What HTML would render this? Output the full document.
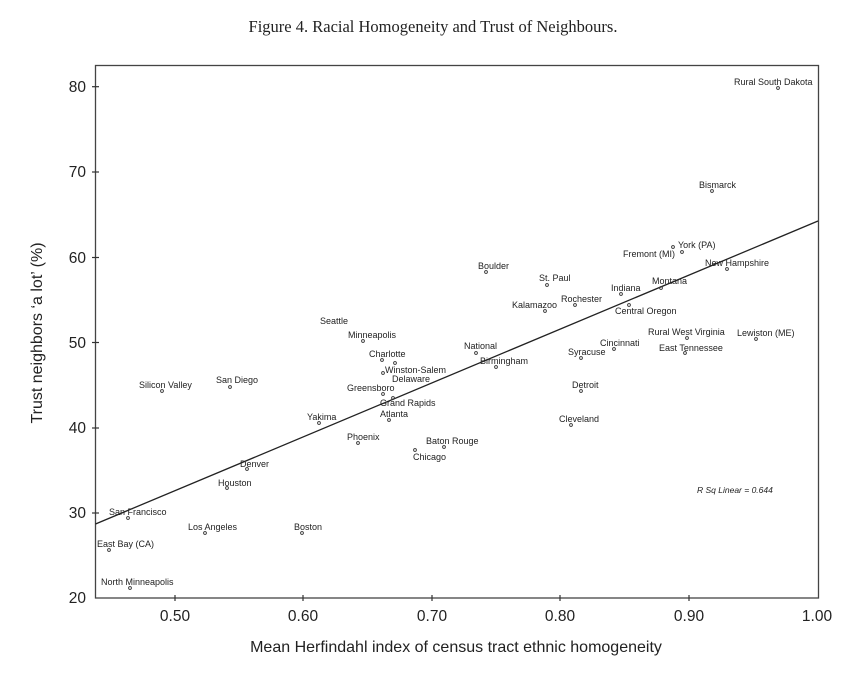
<!DOCTYPE html>
<html><head><meta charset="utf-8"><style>body{margin:0;background:#fff}svg{display:block}</style></head><body>
<svg width="843" height="676" xmlns="http://www.w3.org/2000/svg" font-family="Liberation Sans, sans-serif">
<text x="433" y="32" text-anchor="middle" font-family="Liberation Serif, serif" font-size="16.5" fill="#222">Figure 4.  Racial Homogeneity and Trust of Neighbours.</text>
<rect x="95.5" y="65.5" width="723" height="532.5" fill="none" stroke="#444" stroke-width="1.3"/>
<g stroke="#333" stroke-width="1.2">
<line x1="92" y1="86.7" x2="99" y2="86.7"/><line x1="92" y1="172" x2="99" y2="172"/><line x1="92" y1="257.5" x2="99" y2="257.5"/><line x1="92" y1="342.5" x2="99" y2="342.5"/><line x1="92" y1="428" x2="99" y2="428"/><line x1="92" y1="513" x2="99" y2="513"/>
<line x1="175" y1="595" x2="175" y2="601"/><line x1="303" y1="595" x2="303" y2="601"/><line x1="432" y1="595" x2="432" y2="601"/><line x1="560" y1="595" x2="560" y2="601"/><line x1="689" y1="595" x2="689" y2="601"/>
</g>
<g font-size="15.5" fill="#222" text-anchor="end">
<text x="86" y="92">80</text><text x="86" y="177">70</text><text x="86" y="263">60</text><text x="86" y="348">50</text><text x="86" y="433">40</text><text x="86" y="518">30</text><text x="86" y="603">20</text>
</g>
<g font-size="15.5" fill="#222" text-anchor="middle">
<text x="175" y="621">0.50</text><text x="303" y="621">0.60</text><text x="432" y="621">0.70</text><text x="560" y="621">0.80</text><text x="689" y="621">0.90</text><text x="817" y="621">1.00</text>
</g>
<text x="456" y="652" text-anchor="middle" font-size="16" fill="#222">Mean Herfindahl index of census tract ethnic homogeneity</text>
<text transform="translate(42,333) rotate(-90)" text-anchor="middle" font-size="16" fill="#222">Trust neighbors ‘a lot’ (%)</text>
<line x1="95.5" y1="524" x2="818" y2="221" stroke="#222" stroke-width="1.3"/>
<g fill="none" stroke="#333" stroke-width="0.9">
<circle cx="778" cy="88" r="1.4"/><circle cx="712" cy="191" r="1.4"/><circle cx="673" cy="247" r="1.4"/><circle cx="682" cy="252" r="1.4"/><circle cx="727" cy="269" r="1.4"/><circle cx="486" cy="272" r="1.4"/><circle cx="547" cy="285" r="1.4"/><circle cx="661" cy="288" r="1.4"/><circle cx="621" cy="294" r="1.4"/><circle cx="575" cy="305" r="1.4"/><circle cx="545" cy="311" r="1.4"/><circle cx="629" cy="305" r="1.4"/><circle cx="687" cy="338" r="1.4"/><circle cx="756" cy="339" r="1.4"/><circle cx="614" cy="349" r="1.4"/><circle cx="685" cy="353" r="1.4"/><circle cx="476" cy="353" r="1.4"/><circle cx="581" cy="358" r="1.4"/><circle cx="496" cy="367" r="1.4"/><circle cx="581" cy="391" r="1.4"/><circle cx="571" cy="425" r="1.4"/><circle cx="363" cy="341" r="1.4"/><circle cx="382" cy="360" r="1.4"/><circle cx="395" cy="363" r="1.4"/><circle cx="383" cy="373" r="1.4"/><circle cx="383" cy="394" r="1.4"/><circle cx="393" cy="398" r="1.4"/><circle cx="389" cy="420" r="1.4"/><circle cx="319" cy="423" r="1.4"/><circle cx="358" cy="443" r="1.4"/><circle cx="444" cy="447" r="1.4"/><circle cx="415" cy="450" r="1.4"/><circle cx="162" cy="391" r="1.4"/><circle cx="230" cy="387" r="1.4"/><circle cx="247" cy="469" r="1.4"/><circle cx="227" cy="488" r="1.4"/><circle cx="128" cy="518" r="1.4"/><circle cx="205" cy="533" r="1.4"/><circle cx="302" cy="533" r="1.4"/><circle cx="109" cy="550" r="1.4"/><circle cx="130" cy="588" r="1.4"/>
</g>
<g font-size="9" fill="#222">
<text x="734" y="85">Rural South Dakota</text><text x="699" y="188">Bismarck</text><text x="678" y="248">York (PA)</text><text x="623" y="257">Fremont (MI)</text><text x="705" y="266">New Hampshire</text><text x="478" y="269">Boulder</text><text x="539" y="281">St. Paul</text><text x="652" y="284">Montana</text><text x="611" y="291">Indiana</text><text x="561" y="302">Rochester</text><text x="512" y="308">Kalamazoo</text><text x="615" y="314">Central Oregon</text><text x="648" y="335">Rural West Virginia</text><text x="737" y="336">Lewiston (ME)</text><text x="600" y="346">Cincinnati</text><text x="659" y="351">East Tennessee</text><text x="464" y="349">National</text><text x="568" y="355">Syracuse</text><text x="480" y="364">Birmingham</text><text x="572" y="388">Detroit</text><text x="559" y="422">Cleveland</text><text x="320" y="324">Seattle</text><text x="348" y="338">Minneapolis</text><text x="369" y="357">Charlotte</text><text x="385" y="373">Winston-Salem</text><text x="392" y="382">Delaware</text><text x="347" y="391">Greensboro</text><text x="380" y="406">Grand Rapids</text><text x="380" y="417">Atlanta</text><text x="307" y="420">Yakima</text><text x="347" y="440">Phoenix</text><text x="426" y="444">Baton Rouge</text><text x="413" y="460">Chicago</text><text x="139" y="388">Silicon Valley</text><text x="216" y="383">San Diego</text><text x="240" y="467">Denver</text><text x="218" y="486">Houston</text><text x="109" y="515">San Francisco</text><text x="188" y="530">Los Angeles</text><text x="294" y="530">Boston</text><text x="97" y="547">East Bay (CA)</text><text x="101" y="585">North Minneapolis</text>
<text x="697" y="493" font-style="italic" font-size="8.5">R Sq Linear = 0.644</text>
</g>
</svg>
</body></html>
